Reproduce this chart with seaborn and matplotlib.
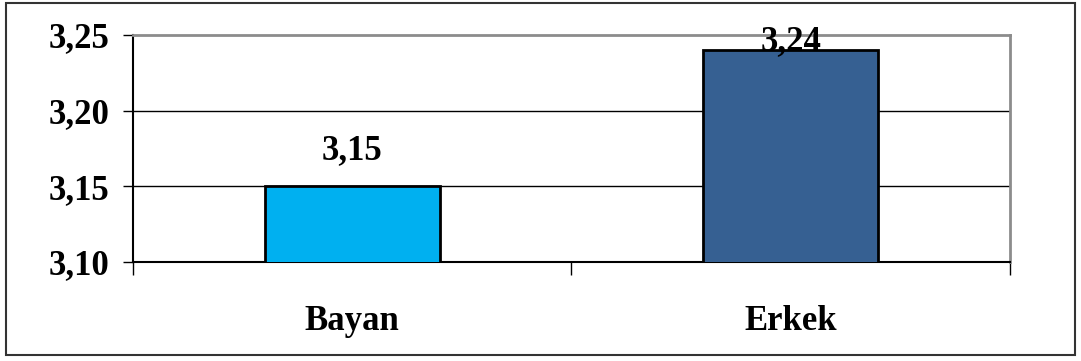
import matplotlib
matplotlib.use("Agg")
import matplotlib.pyplot as plt
import seaborn as sns
import pandas as pd
from matplotlib.patches import Rectangle
from matplotlib.ticker import FixedLocator, FuncFormatter

categories = ["Bayan", "Erkek"]
values = [3.15, 3.24]
colors = ["#00B0F0", "#366092"]
yticks = [3.10, 3.15, 3.20, 3.25]

sns.set_theme(style="white")
plt.rcParams["font.family"] = ["Liberation Serif", "DejaVu Serif"]
plt.rcParams["font.weight"] = "bold"

df = pd.DataFrame({"cat": categories, "val": values})

fig = plt.figure(figsize=(10.81, 3.61), dpi=100)
ax = fig.add_axes([0.123, 0.2742, 0.8113, 0.6288])

sns.barplot(data=df, x="cat", y="val", hue="cat", palette=dict(zip(categories, colors)),
            saturation=1, width=0.4, edgecolor="black", linewidth=2, legend=False, ax=ax, zorder=3)

ax.set_ylim(yticks[0], yticks[-1])
ax.set_xlim(-0.5, len(categories) - 0.5)
ax.set_yticks(yticks)
ax.yaxis.set_major_formatter(FuncFormatter(lambda v, p: f"{v:.2f}".replace(".", ",")))
for t in yticks[1:-1]:
    ax.axhline(t, color="black", linewidth=1, zorder=1)

ax.set_xlabel("")
ax.set_ylabel("")

for s in ["top", "right"]:
    ax.spines[s].set_color("#8c8c8c")
    ax.spines[s].set_linewidth(2)
for s in ["left", "bottom"]:
    ax.spines[s].set_color("black")
    ax.spines[s].set_linewidth(1.5)

FS = 25
ax.tick_params(axis="y", which="major", direction="out", length=7, width=1, color="black",
               left=True, pad=10, labelsize=FS)
ax.tick_params(axis="x", which="major", length=0, pad=31, labelsize=FS)
ax.xaxis.set_minor_locator(FixedLocator([-0.5 + i for i in range(len(categories) + 1)]))
ax.tick_params(axis="x", which="minor", direction="out", length=9.5, width=1, color="black", bottom=True)
for lab in ax.get_xticklabels() + ax.get_yticklabels():
    lab.set_fontweight("bold")
    lab.set_color("black")

for i, v in enumerate(values):
    ty = min(v + 0.018, yticks[-1] - 0.01)
    ax.text(i, ty, f"{v:.2f}".replace(".", ","), ha="center", va="baseline",
            fontsize=FS, fontweight="bold", color="black", zorder=5)

fig.add_artist(Rectangle((6 / 1081, 1 - 355 / 361), 1069 / 1081, 352 / 361,
                         transform=fig.transFigure, fill=False, edgecolor="#333333", linewidth=1.5))

fig.savefig("out.png", dpi=100)
